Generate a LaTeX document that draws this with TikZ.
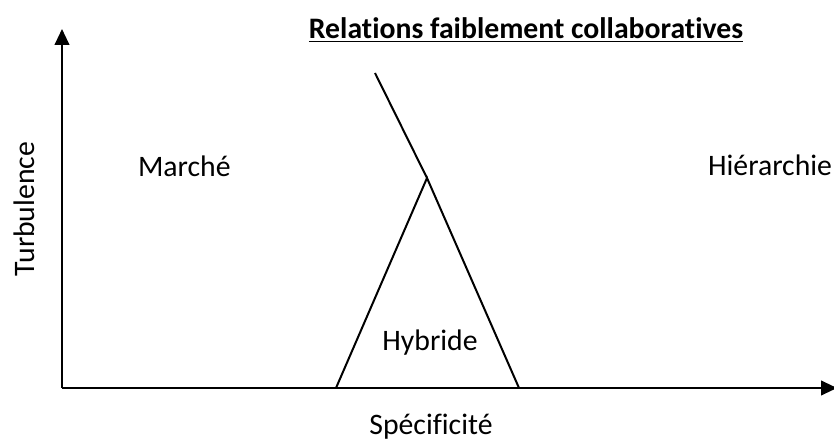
\documentclass[tikz,border=0pt]{standalone}
\usepackage{fontspec}
\setmainfont{Carlito}[Ligatures=NoCommon]
\usetikzlibrary{arrows.meta}
\tikzset{every picture/.style={line width=1.5pt}}

\begin{document}
\begin{tikzpicture}[x=0.75pt, y=-0.75pt, >={Triangle[length=12pt, width=11pt]},
    every node/.style={font=\fontsize{22.3}{26}\selectfont, inner sep=0pt}]
        \useasboundingbox (0, 0) rectangle (834, 441);
        % axes
        \coordinate (o)    at (62, 388);
        \coordinate (ytip) at (62, 29);
        \coordinate (xtip) at (837, 388);
        \draw[->] (o) -- (ytip);
        \draw[->] (o) -- (xtip);
        % zone hybride
        \coordinate (hl)   at (336, 388);
        \coordinate (apex) at (427, 178);
        \coordinate (hr)   at (519, 388);
        \coordinate (top)  at (375, 73);
        \draw (hl) -- (apex) -- (hr);
        \draw (top) -- (apex);
        % textes
        \node[anchor=base, font=\fontsize{22.3}{26}\selectfont\bfseries] (titre) at (526, 39) {\underline{Relations faiblement collaboratives}};
        \node[anchor=base west] (marche) at (137, 177) {Marché};
        \node[anchor=base east] (hier)   at (833, 176) {Hiérarchie};
        \node[anchor=base] (hyb)  at (430, 350) {Hybride};
        \node[anchor=base] (spec) at (431, 434) {Spécificité};
        \node[anchor=base, rotate=90] (turb) at (34, 209) {Turbulence};
    \end{tikzpicture}
\end{document}
